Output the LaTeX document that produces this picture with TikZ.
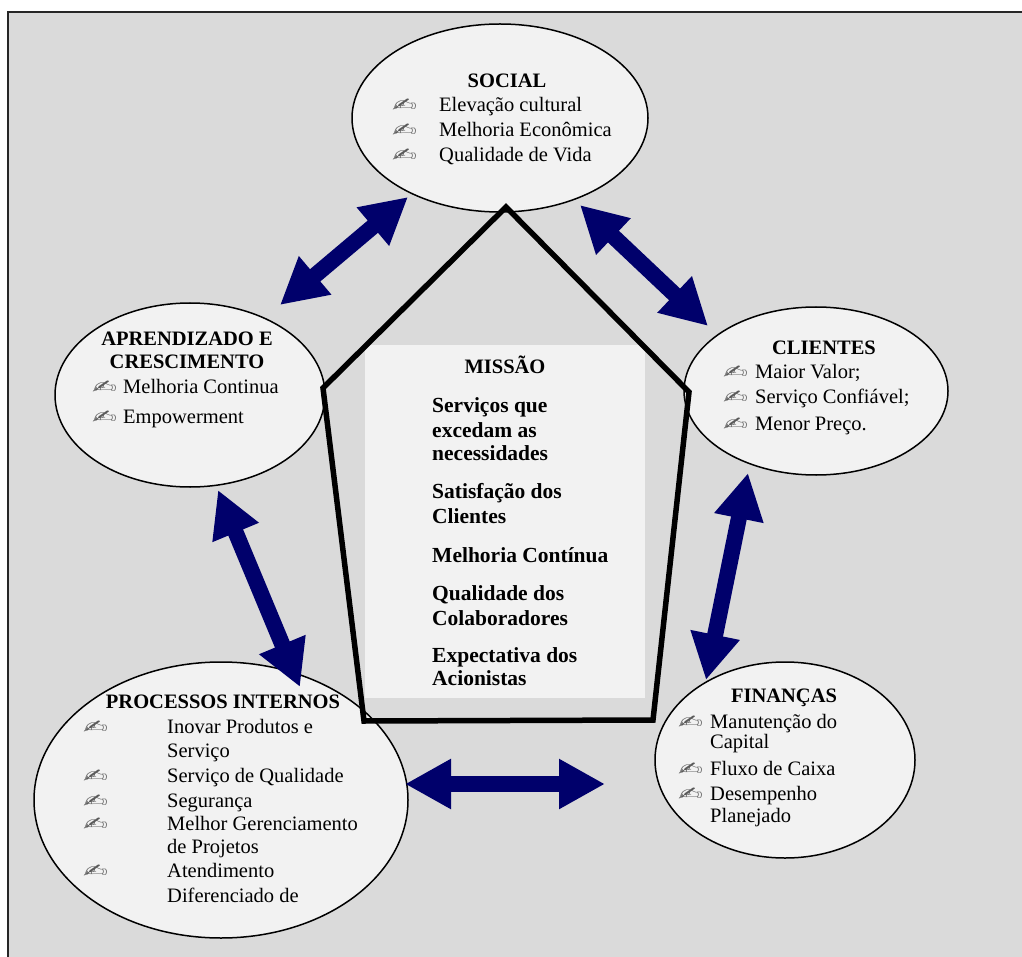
\documentclass[tikz,border=0pt]{standalone}
\usepackage{fontspec}
\usepackage{graphicx}
\setmainfont{Liberation Serif}
\newfontfamily\dejavu{DejaVu Sans}
\usetikzlibrary{shapes.geometric,arrows.meta}
\definecolor{bg}{HTML}{DADADA}
\definecolor{pale}{HTML}{F2F2F2}
\definecolor{navy}{HTML}{00006B}
\definecolor{iconc}{HTML}{5A5A5A}
\newcommand\hand{{\dejavu\color{iconc}\scalebox{1.45}[0.9]{✍}}}
\newcommand\fs{\fontsize{20.5}{25}\selectfont}
\newcommand\fsb{\fontsize{21.5}{25}\selectfont\bfseries}
\begin{document}
\begin{tikzpicture}[x=1pt,y=-1pt,
  oval/.style={ellipse, draw=black, line width=1.5pt, fill=pale, inner sep=0pt},
  txt/.style={anchor=base west, inner sep=0pt, font=\fs},
  hd/.style={anchor=base, inner sep=0pt, font=\fs\bfseries},
  mtxt/.style={anchor=base west, inner sep=0pt, font=\fsb},
  ic/.style={anchor=base west, inner sep=0pt, font=\fs},
  dbl/.style={navy, line width=16pt,
    {Triangle[length=46pt,width=47pt]}-{Triangle[length=46pt,width=47pt]}}
]
\useasboundingbox (0,0) rectangle (1022,957);
% frame
\fill[white] (0,0) rectangle (1022,957);
\fill[bg] (8,12) rectangle (1022,957);
\draw[black!85, line width=2.5pt] (8,957) -- (8,12) -- (1022,12);

% ellipses
\node[oval, minimum width=296pt, minimum height=188pt] (soc) at (500,118) {};
\node[oval, minimum width=270pt, minimum height=184pt] (apr) at (190,395) {};
\node[oval, minimum width=264pt, minimum height=168pt] (cli) at (816,391) {};
\node[oval, minimum width=374pt, minimum height=276pt] (pro) at (221,800) {};
\node[oval, minimum width=260pt, minimum height=196pt] (fin) at (785,760) {};

% arrow end points
\coordinate (a1s) at (408,197); \coordinate (a1a) at (280,305);
\coordinate (a2s) at (580,205); \coordinate (a2c) at (708,326);
\coordinate (a3a) at (218,490); \coordinate (a3p) at (300,687);
\coordinate (a4c) at (748,473); \coordinate (a4f) at (706,680);
\coordinate (a5p) at (405,784); \coordinate (a5f) at (605,784);
\draw[dbl] (a1a) -- (a1s);
\draw[dbl] (a2s) -- (a2c);
\draw[dbl] (a3a) -- (a3p);
\draw[dbl] (a4c) -- (a4f);
\draw[dbl] (a5p) -- (a5f);

% mission box and pentagon
\node[fill=pale, inner sep=0pt, minimum width=280pt, minimum height=353pt] (mis) at (505,521.5) {};
\coordinate (pT) at (506,207);
\coordinate (pL) at (323,388);
\coordinate (pR) at (689,392);
\coordinate (pBL) at (364,721);
\coordinate (pBR) at (653,720);
\draw[line width=5.5pt, line join=miter] (pT) -- (pR) -- (pBR) -- (pBL) -- (pL) -- cycle;

% SOCIAL
\node[hd] (socH) at (507,88) {SOCIAL};
\node[ic] (socI1) at (392,112) {\hand}; \node[txt] (socT1) at (439,112) {Elevação cultural};
\node[ic] (socI2) at (392,137) {\hand}; \node[txt] (socT2) at (439,137) {Melhoria Econômica};
\node[ic] (socI3) at (392,162) {\hand}; \node[txt] (socT3) at (439,162) {Qualidade de Vida};

% APRENDIZADO
\node[hd] (aprH1) at (187,345) {APRENDIZADO E};
\node[hd] (aprH2) at (187,368) {CRESCIMENTO};
\node[ic] (aprI1) at (92,393) {\hand}; \node[txt] (aprT1) at (123,393) {Melhoria Continua};
\node[ic] (aprI2) at (92,423) {\hand}; \node[txt] (aprT2) at (123,423) {Empowerment};

% CLIENTES
\node[hd] (cliH) at (824,355) {CLIENTES};
\node[ic] (cliI1) at (723,378) {\hand}; \node[txt] (cliT1) at (755,378) {Maior Valor;};
\node[ic] (cliI2) at (723,403) {\hand}; \node[txt] (cliT2) at (755,403) {Serviço Confiável;};
\node[ic] (cliI3) at (723,430) {\hand}; \node[txt] (cliT3) at (755,430) {Menor Preço.};

% PROCESSOS INTERNOS
\node[hd] (proH) at (223,708) {PROCESSOS INTERNOS};
\node[ic] (proI1) at (83,733) {\hand}; \node[txt] (proT1) at (167,733) {Inovar Produtos e};
\node[txt] (proT1b) at (167,757) {Serviço};
\node[ic] (proI2) at (83,782) {\hand}; \node[txt] (proT2) at (167,782) {Serviço de Qualidade};
\node[ic] (proI3) at (83,807) {\hand}; \node[txt] (proT3) at (167,807) {Segurança};
\node[ic] (proI4) at (83,830) {\hand}; \node[txt] (proT4) at (167,830) {Melhor Gerenciamento};
\node[txt] (proT4b) at (167,853) {de Projetos};
\node[ic] (proI5) at (83,877) {\hand}; \node[txt] (proT5) at (167,877) {Atendimento};
\node[txt] (proT5b) at (167,902) {Diferenciado de};

% FINANCAS
\node[hd] (finH) at (784,702) {FINANÇAS};
\node[ic] (finI1) at (678,728) {\hand}; \node[txt] (finT1) at (710,728) {Manutenção do};
\node[txt] (finT1b) at (710,748) {Capital};
\node[ic] (finI2) at (678,775) {\hand}; \node[txt] (finT2) at (710,775) {Fluxo de Caixa};
\node[ic] (finI3) at (678,800) {\hand}; \node[txt] (finT3) at (710,800) {Desempenho};
\node[txt] (finT3b) at (710,822) {Planejado};

% MISSAO
\node[hd] (misH) at (505,373) {MISSÃO};
\node[mtxt] (m1) at (432,412) {Serviços que};
\node[mtxt] (m2) at (432,437) {excedam as};
\node[mtxt] (m3) at (432,460) {necessidades};
\node[mtxt] (m4) at (432,498) {Satisfação dos};
\node[mtxt] (m5) at (432,523) {Clientes};
\node[mtxt] (m6) at (432,562) {Melhoria Contínua};
\node[mtxt] (m7) at (432,600) {Qualidade dos};
\node[mtxt] (m8) at (432,625) {Colaboradores};
\node[mtxt] (m9) at (432,662) {Expectativa dos};
\node[mtxt] (m10) at (432,685) {Acionistas};
\end{tikzpicture}
\end{document}
